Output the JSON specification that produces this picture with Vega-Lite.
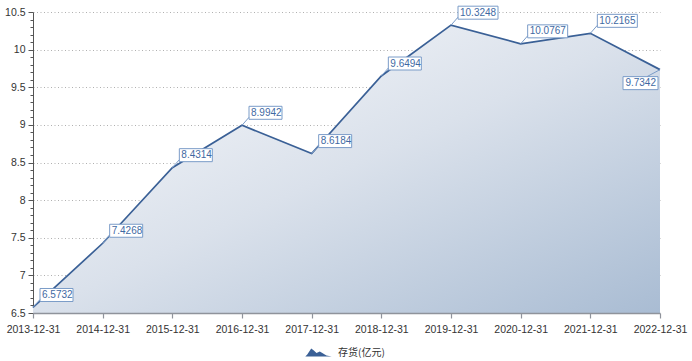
{
  "$schema": "https://vega.github.io/schema/vega-lite/v6.json",
  "width": 627,
  "height": 301,
  "autosize": {"type": "none"},
  "padding": {"left": 33, "top": 12, "right": 32, "bottom": 48},
  "background": "white",
  "config": {
    "view": {"stroke": null},
    "font": "Liberation Sans",
    "axis": {"labelFont": "Liberation Sans", "labelFontSize": 10.5, "labelColor": "#333333"}
  },
  "data": {
    "values": [
      {"date": "2013-12-31", "value": 6.5732, "series": "存货(亿元)"},
      {"date": "2014-12-31", "value": 7.4268, "series": "存货(亿元)"},
      {"date": "2015-12-31", "value": 8.4314, "series": "存货(亿元)"},
      {"date": "2016-12-31", "value": 8.9942, "series": "存货(亿元)"},
      {"date": "2017-12-31", "value": 8.6184, "series": "存货(亿元)"},
      {"date": "2018-12-31", "value": 9.6494, "series": "存货(亿元)"},
      {"date": "2019-12-31", "value": 10.3248, "series": "存货(亿元)"},
      {"date": "2020-12-31", "value": 10.0767, "series": "存货(亿元)"},
      {"date": "2021-12-31", "value": 10.2165, "series": "存货(亿元)"},
      {"date": "2022-12-31", "value": 9.7342, "series": "存货(亿元)"}
    ]
  },
  "encoding": {
    "x": {
      "field": "date",
      "type": "ordinal",
      "sort": null,
      "scale": {"type": "point", "padding": 0},
      "axis": {
        "title": null,
        "labelAngle": 0,
        "domainColor": "#8f939b",
        "domainWidth": 1.5,
        "tickColor": "#8f939b",
        "tickWidth": 1.2,
        "tickSize": 5,
        "labelPadding": 6,
        "grid": false,
        "zindex": 1
      }
    },
    "y": {
      "field": "value",
      "type": "quantitative",
      "scale": {"domain": [6.5, 10.5], "nice": false, "zero": false},
      "axis": {
        "title": null,
        "values": [6.5, 6.6, 6.7, 6.8, 6.9, 7, 7.1, 7.2, 7.3, 7.4, 7.5, 7.6, 7.7, 7.8, 7.9, 8, 8.1, 8.2, 8.3, 8.4, 8.5, 8.6, 8.7, 8.8, 8.9, 9, 9.1, 9.2, 9.3, 9.4, 9.5, 9.6, 9.7, 9.8, 9.9, 10, 10.1, 10.2, 10.3, 10.4, 10.5],
        "labelExpr": "abs(datum.value*2 - round(datum.value*2)) < 0.001 ? ('' + datum.value) : ''",
        "tickSize": {"condition": {"test": "abs(datum.value*2 - round(datum.value*2)) < 0.001", "value": 5}, "value": 3},
        "tickColor": "#555555",
        "domainColor": "#555555",
        "labelPadding": 3,
        "grid": true,
        "gridColor": "#b0b0b0",
        "gridDash": [1, 2.5],
        "gridOpacity": {"condition": {"test": "abs(datum.value*2 - round(datum.value*2)) < 0.001 && datum.value > 6.6", "value": 1}, "value": 0}
      }
    }
  },
  "layer": [
    {
      "mark": {
        "type": "area",
        "line": false,
        "clip": true,
        "fill": {
          "gradient": "linear",
          "x1": 0, "y1": 0, "x2": 1, "y2": 1,
          "stops": [
            {"offset": 0, "color": "#fdfdfe"},
            {"offset": 0.5, "color": "#dae1eb"},
            {"offset": 1, "color": "#a9bcd3"}
          ]
        },
        "fillOpacity": 1
      },
      "encoding": {"y2": {"datum": 6.5}}
    },
    {
      "mark": {"type": "line", "strokeWidth": 1.7},
      "encoding": {
        "color": {
          "field": "series",
          "type": "nominal",
          "scale": {"range": ["#3a6096"]},
          "legend": {
            "title": null,
            "orient": "none",
            "legendX": 272,
            "legendY": 327,
            "symbolType": "M-1,0.3 L-0.85,0.15 L-0.55,-0.3 L-0.35,-0.15 L-0.15,0.03 L0.1,-0.07 L0.35,0.07 L0.6,0.22 L1,0.3 Z",
            "symbolSize": 700,
            "labelFont": "Noto Sans CJK SC",
            "labelFontSize": 10,
            "labelColor": "#333333",
            "labelOffset": 6,
            "encode": {"symbols": {"update": {"fill": {"value": "#3a6096"}, "stroke": {"value": "transparent"}, "strokeWidth": {"value": 0}}}}
          }
        }
      }
    },
    {
      "mark": {"type": "point", "size": 4, "opacity": 1, "filled": false, "fill": "white", "stroke": "#7b9cc8", "strokeWidth": 1},
      "encoding": {
        "shape": {
          "condition": [
            {"test": "datum.date == '2022-12-31'", "value": "M0,0 L-13,7 M-37,7 H-2 V20 H-37 Z"},
            {"test": "datum.value >= 10", "value": "M0,0 L7,-8 M7,-19 H47 V-6 H7 Z"}
          ],
          "value": "M0,0 L7,-8 M7,-19 H40 V-6 H7 Z"
        }
      }
    },
    {
      "transform": [{"filter": "datum.date != '2022-12-31'"}],
      "mark": {"type": "text", "align": "left", "baseline": "middle", "dx": 9, "dy": -12.5, "fontSize": 10, "font": "Liberation Sans", "color": "#3f6aa3"},
      "encoding": {"text": {"field": "value", "type": "quantitative", "format": ".4f"}}
    },
    {
      "transform": [{"filter": "datum.date == '2022-12-31'"}],
      "mark": {"type": "text", "align": "right", "baseline": "middle", "dx": -4, "dy": 13.5, "fontSize": 10, "font": "Liberation Sans", "color": "#3f6aa3"},
      "encoding": {"text": {"field": "value", "type": "quantitative", "format": ".4f"}}
    }
  ]
}
